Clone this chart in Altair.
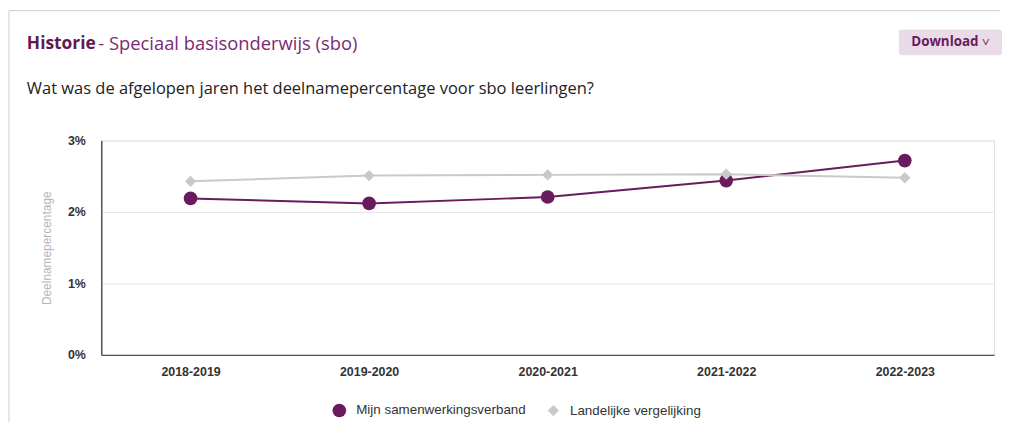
import altair as alt
import pandas as pd

years = ["2018-2019", "2019-2020", "2020-2021", "2021-2022", "2022-2023"]
mijn = [2.19, 2.12, 2.21, 2.44, 2.72]
landelijk = [2.43, 2.51, 2.52, 2.53, 2.48]
series_names = ["Mijn samenwerkingsverband", "Landelijke vergelijking"]
series_colors = ["#6a1b5d", "#c9c9c9"]
y_ticks = [0, 1, 2, 3]

rows = []
for name, vals in zip(series_names, [mijn, landelijk]):
    for yr, v in zip(years, vals):
        rows.append({"jaar": yr, "serie": name, "pct": v / 100})
df = pd.DataFrame(rows)
one = pd.DataFrame({"k": [0]})

FONT = "Liberation Sans"
TFONT = "Open Sans"

x_enc = alt.X("jaar:N", sort=years, title=None,
              scale=alt.Scale(paddingInner=0, paddingOuter=0),
              axis=alt.Axis(labelAngle=0, labelFont=FONT, labelFontSize=12.5,
                            labelFontWeight="bold", labelColor="#333333",
                            labelPadding=11, ticks=False, domainColor="#555555",
                            domainWidth=1.5, grid=False))
y_enc = alt.Y("pct:Q", title="Deelnamepercentage",
              scale=alt.Scale(domain=[0, 0.03], nice=False),
              axis=alt.Axis(values=[t / 100 for t in y_ticks], format=".0%",
                            labelFont=FONT, labelFontSize=12.5, labelFontWeight="bold",
                            labelColor="#333333", labelPadding=16, ticks=False,
                            domainColor="#555555", domainWidth=1.5,
                            gridColor="#e6e6e6", gridWidth=1,
                            titleFont=FONT, titleFontSize=12, titleFontWeight="normal",
                            titleColor="#b5b5b5", titleX=-55, titleY=108,
                            titleAngle=270, titleAlign="center", titleBaseline="middle"))
legend = alt.Legend(title=None, orient="none", direction="horizontal",
                    legendX=233, legendY=265, labelFont=FONT,
                    labelFontSize=13.5, labelColor="#333333", labelLimit=400,
                    labelOffset=10, columnPadding=20, symbolStrokeWidth=0)
color_enc = alt.Color("serie:N", scale=alt.Scale(domain=series_names, range=series_colors),
                      sort=series_names, legend=legend)

base = alt.Chart(df)
lines = base.mark_line(strokeWidth=2).encode(
    x=x_enc, y=y_enc,
    color=color_enc,
    detail="serie:N",
)
points = base.mark_point(filled=True, opacity=1).encode(
    x=alt.X("jaar:N", sort=years),
    y=alt.Y("pct:Q"),
    color=color_enc,
    shape=alt.Shape("serie:N", sort=series_names,
                    scale=alt.Scale(domain=series_names, range=["circle", "diamond"]),
                    legend=legend),
    size=alt.Size("serie:N", sort=series_names,
                  scale=alt.Scale(domain=series_names, range=[190, 130]),
                  legend=legend),
)

# decorative card elements (single-row data so each is drawn once)
deco = alt.Chart(one)
border_top = deco.mark_rule(color="#cccccc", strokeWidth=1).encode(
    x=alt.value(-93), x2=alt.value(906), y=alt.value(-131))
border_left = deco.mark_rule(color="#cccccc", strokeWidth=1).encode(
    x=alt.value(-93), y=alt.value(-131), y2=alt.value(300))
title1 = deco.mark_text(text="Historie", font=TFONT, fontSize=17.5, fontWeight="bold",
                        color="#5e1a52", align="left", baseline="middle").encode(
    x=alt.value(-75), y=alt.value(-97))
title2 = deco.mark_text(text="- Speciaal basisonderwijs (sbo)", font=TFONT, fontSize=18.5,
                        fontWeight="normal",
                        color="#7b2b6f", align="left", baseline="middle").encode(
    x=alt.value(-3), y=alt.value(-97))
subtitle = deco.mark_text(
    text="Wat was de afgelopen jaren het deelnamepercentage voor sbo leerlingen?",
    font=TFONT, fontSize=16.6, fontWeight="normal", color="#222222", align="left",
    baseline="middle").encode(
    x=alt.value(-75), y=alt.value(-52))
button = deco.mark_rect(color="#e9dbe7", cornerRadius=3).encode(
    x=alt.value(804), x2=alt.value(908), y=alt.value(-112), y2=alt.value(-86))
button_txt = deco.mark_text(text="Download ˅", font=TFONT, fontSize=13.5,
                            fontWeight="bold", color="#6a1b5d", align="center",
                            baseline="middle").encode(
    x=alt.value(856), y=alt.value(-99))

chart = alt.layer(lines, points, border_top, border_left, title1, title2, subtitle,
                  button, button_txt).properties(
    width=900, height=216,
    padding={"left": 94, "top": 132, "right": 10, "bottom": 66},
    autosize=alt.AutoSizeParams(type="none"),
).configure_view(stroke=None).configure(background="white")

chart.save("out.html", embed_options={"renderer": "svg", "actions": False})
